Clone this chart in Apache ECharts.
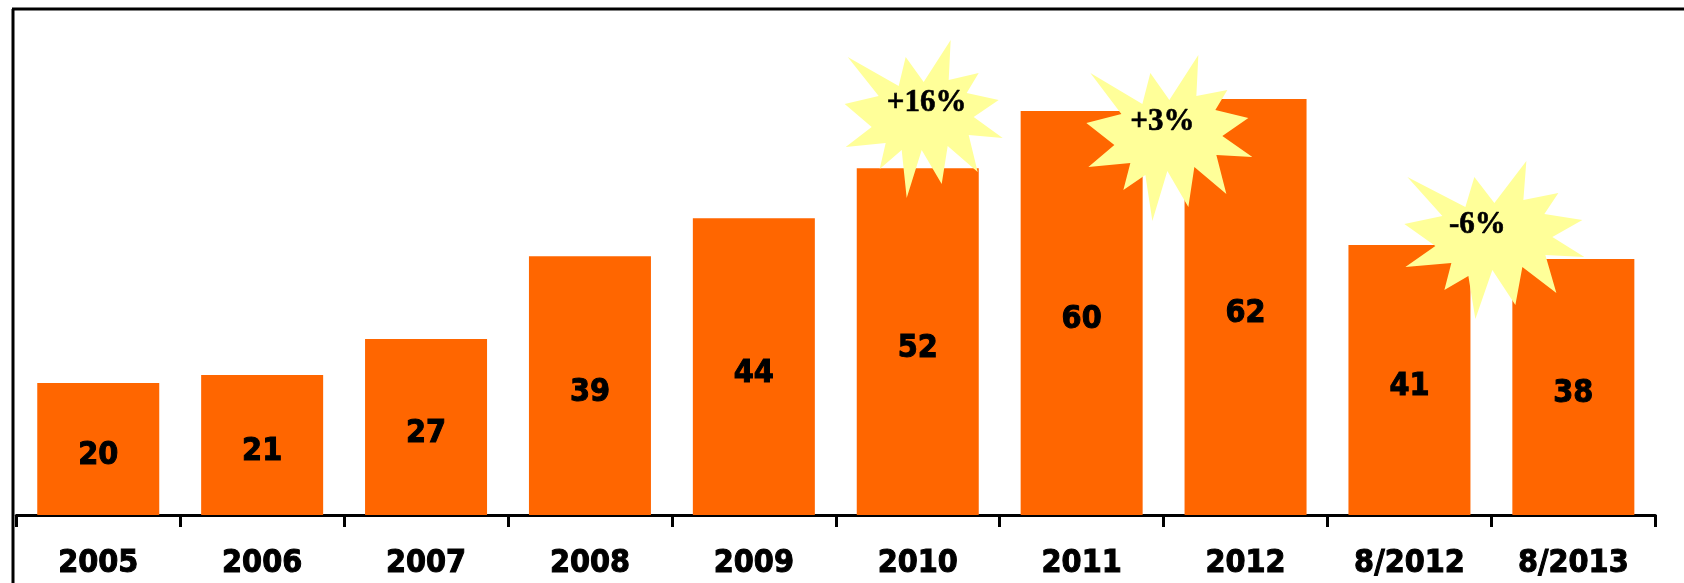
<!DOCTYPE html>
<html>
<head>
<meta charset="utf-8">
<style>
  html, body { margin: 0; padding: 0; background: #fff; }
  #main { width: 1684px; height: 583px; }
</style>
<script src="https://cdn.jsdelivr.net/npm/echarts@6/dist/echarts.min.js"></script>
</head>
<body>
<div id="main"></div>
<script>
const categories = ['2005', '2006', '2007', '2008', '2009', '2010', '2011', '2012', '8/2012', '8/2013']
// bar heights, the printed labels are rounded
const barValues = [19.8, 21, 26.4, 38.8, 44.5, 52, 60.6, 62.4, 40.5, 38.4]
const barLabels = [20, 21, 27, 39, 44, 52, 60, 62, 41, 38]

const starTexts = ['+16%', '+3%', '-6%']
const starX = [5.524, 7.029, 9.012]
const starY = [59.7, 56.7, 41.7]

// burst outlines, px offsets from the star centre
const starOutlines = [
  [[29, -77], [27, -37], [57, -44], [45, -24], [77, -17], [52, 0], [81, 21], [47, 18], [56, 55], [26, 29], [20, 67], [0, 33], [-15, 81], [-20, 33], [-42, 52], [-36, 26], [-76, 30], [-50, 10], [-77, -13], [-43, -21], [-74, -60], [-23, -31], [-16, -60], [2, -35]],
  [[30, -82], [28, -41], [59, -47], [47, -27], [80, -19], [54, -1], [84, 20], [48, 18], [58, 57], [26, 30], [20, 70], [-1, 34], [-16, 84], [-23, 38], [-45, 53], [-38, 26], [-80, 30], [-54, 8], [-82, -14], [-47, -23], [-78, -64], [-26, -33], [-18, -64], [1, -37]],
  [[33, -76], [30, -37], [65, -44], [51, -23], [89, -17], [59, 0], [91, 20], [52, 18], [63, 56], [29, 30], [22, 68], [-1, 33], [-18, 82], [-25, 39], [-49, 53], [-42, 26], [-88, 30], [-58, 9], [-89, -13], [-51, -21], [-86, -60], [-28, -30], [-19, -60], [1, -34]]
]
const starTextOffsets = [[5, -14], [-6, -15], [-16, -12]]

const labelFont = '"DejaVu Sans Condensed", "DejaVu Sans", sans-serif'

const chart = echarts.init(document.getElementById('main'), null, { renderer: 'canvas' })

chart.setOption({
  animation: false,
  backgroundColor: '#fff',
  grid: { left: 16.3, right: 28.7, top: 15, bottom: 68 },
  xAxis: [
    {
      type: 'category',
      data: categories,
      axisLine: { lineStyle: { color: '#000', width: 3 } },
      axisTick: { show: true, alignWithLabel: false, length: 12, lineStyle: { color: '#000', width: 3 } },
      axisLabel: {
        color: '#000',
        fontFamily: labelFont,
        fontWeight: 'bold',
        fontSize: 32,
        margin: 33,
        textBorderColor: '#000',
        textBorderWidth: 1,
        interval: 0
      }
    },
    { type: 'value', min: 0, max: 10, show: false }
  ],
  yAxis: {
    type: 'value',
    min: 0,
    max: 75,
    show: false
  },
  graphic: [
    { type: 'line', shape: { x1: 13, y1: 9, x2: 13, y2: 583 }, style: { stroke: '#000', lineWidth: 3 } },
    { type: 'line', shape: { x1: 12, y1: 9, x2: 1684, y2: 9 }, style: { stroke: '#000', lineWidth: 3 } }
  ],
  series: [
    {
      type: 'bar',
      data: barValues,
      barWidth: 122,
      itemStyle: { color: '#ff6600' },
      label: {
        show: true,
        position: 'inside',
        offset: [0, 7],
        color: '#000',
        fontFamily: labelFont,
        fontWeight: 'bold',
        fontSize: 32,
        textBorderColor: '#000',
        textBorderWidth: 1,
        formatter: (p) => String(barLabels[p.dataIndex])
      }
    },
    {
      type: 'custom',
      xAxisIndex: 1,
      yAxisIndex: 0,
      clip: false,
      z: 5,
      data: starX.map((x, i) => [x, starY[i]]),
      renderItem (params, api) {
        const i = params.dataIndex
        const c = api.coord([api.value(0), api.value(1)])
        return {
          type: 'group',
          children: [
            {
              type: 'polygon',
              shape: { points: starOutlines[i].map(p => [c[0] + p[0], c[1] + p[1]]) },
              style: { fill: '#ffff99' }
            },
            {
              type: 'text',
              x: c[0] + starTextOffsets[i][0],
              y: c[1] + starTextOffsets[i][1],
              style: {
                text: starTexts[i],
                fill: '#000',
                stroke: '#000',
                lineWidth: 0.6,
                fontFamily: '"Liberation Serif"',
                fontWeight: 'bold',
                fontSize: 31,
                align: 'center',
                verticalAlign: 'middle'
              }
            }
          ]
        }
      }
    }
  ]
})

window.addEventListener('resize', () => {
  chart.resize()
})
</script>
</body>
</html>
